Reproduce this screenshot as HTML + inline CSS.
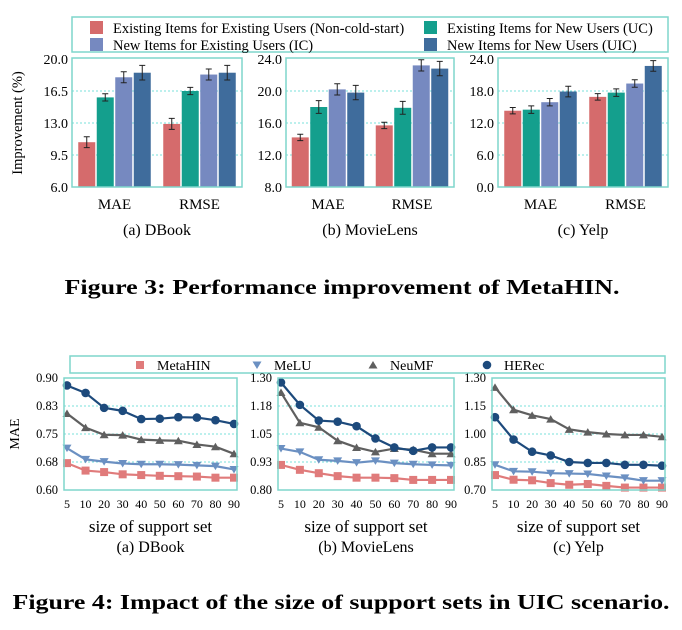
<!DOCTYPE html>
<html><head><meta charset="utf-8"><style>
html,body{margin:0;padding:0;background:#fff;}
svg{display:block;font-family:"Liberation Serif",serif;}
</style></head><body>
<svg id="fig" width="682" height="630" viewBox="0 0 682 630"></svg>
<script>
// ---- Figure 3 data ----
const barMetrics = ["MAE","RMSE"];
const barSeriesNames = ["Existing Items for Existing Users (Non-cold-start)","Existing Items for New Users (UC)","New Items for Existing Users (IC)","New Items for New Users (UIC)"];
const dbookMAE = [10.9, 15.8, 18.0, 18.5];
const dbookRMSE = [12.9, 16.5, 18.3, 18.5];
const movieMAE = [14.2, 18.0, 20.2, 19.8];
const movieRMSE = [15.7, 17.9, 23.2, 22.8];
const yelpMAE = [14.3, 14.5, 15.9, 17.9];
const yelpRMSE = [16.9, 17.7, 19.4, 22.7];
const dbookErr = [0.6, 0.4, 0.6, 0.8];
const movieErr = [0.4, 0.8, 0.7, 0.9];
const yelpErr = [0.6, 0.7, 0.7, 1.0];
const dbookTicks = ["6.0","9.5","13.0","16.5","20.0"];
const movieTicks = ["8.0","12.0","16.0","20.0","24.0"];
const yelpTicks = ["0.0","6.0","12.0","18.0","24.0"];
// ---- Figure 4 data ----
const supportSizes = ["5","10","20","30","40","50","60","70","80","90"];
const lineSeriesNames = ["MetaHIN","MeLU","NeuMF","HERec"];
const dbMeta = [0.672,0.652,0.648,0.642,0.640,0.638,0.637,0.636,0.633,0.633];
const dbMelu = [0.712,0.682,0.676,0.671,0.669,0.669,0.668,0.666,0.664,0.655];
const dbNeu = [0.805,0.767,0.748,0.747,0.735,0.733,0.732,0.722,0.716,0.697];
const dbHer = [0.880,0.860,0.820,0.812,0.790,0.791,0.795,0.794,0.787,0.777];
const mlMeta = [0.912,0.890,0.875,0.862,0.855,0.855,0.853,0.845,0.845,0.845];
const mlMelu = [0.985,0.970,0.935,0.930,0.922,0.930,0.920,0.915,0.912,0.910];
const mlNeu = [1.235,1.100,1.080,1.020,0.990,0.970,0.985,0.980,0.962,0.962];
const mlHer = [1.280,1.180,1.110,1.105,1.085,1.030,0.990,0.975,0.990,0.990];
const ypMeta = [0.780,0.755,0.752,0.737,0.728,0.732,0.722,0.713,0.713,0.713];
const ypMelu = [0.835,0.800,0.798,0.790,0.788,0.786,0.775,0.765,0.750,0.750];
const ypNeu = [1.250,1.130,1.100,1.080,1.025,1.010,1.000,0.995,0.995,0.985];
const ypHer = [1.090,0.970,0.905,0.885,0.850,0.845,0.845,0.835,0.835,0.830];
const dbLineTicks = ["0.60","0.68","0.75","0.83","0.90"];
const mlLineTicks = ["0.80","0.93","1.05","1.18","1.30"];
const ypLineTicks = ["0.70","0.85","1.00","1.15","1.30"];

const NS="http://www.w3.org/2000/svg";
const svg=document.getElementById('fig');
function mk(tag,attrs,parent,text){const e=document.createElementNS(NS,tag);for(const k in attrs)e.setAttribute(k,attrs[k]);if(text!==undefined)e.textContent=text;(parent||svg).appendChild(e);return e;}
const FRAME="#7fd6cc";
const barColors=["#d56b6c","#149f8d","#7689c0","#3f6c9c"];
const lineColors=["#e07b7b","#6b90c2","#5f5f5f","#1d4a7c"];

// Figure 3 legend
let lg=mk('g',{});


mk('rect',{x:72,y:17,width:596,height:35,fill:'none',stroke:FRAME,'stroke-width':1.5},lg);
const legPos=[[90,28],[424,28],[90,45],[424,45]];
barSeriesNames.forEach((n,i)=>{
  const g=mk('g',{},lg);
  
  
  mk('rect',{x:legPos[i][0],y:legPos[i][1]-7,width:13,height:13,fill:barColors[i]},g);
  mk('text',{x:legPos[i][0]+23,y:legPos[i][1]+5,'font-size':14.5},g,n);
});

function barPanel(name,x0,x1,yTicks,mae,rmse,err,label,showY){
  const y0=59,y1=187;
  const g=mk('g',{});
  
  
  const lo=parseFloat(yTicks[0]),hi=parseFloat(yTicks[yTicks.length-1]);
  const ys=v=>y1-(v-lo)/(hi-lo)*(y1-y0);
  yTicks.forEach((t,i)=>{
    const y=ys(parseFloat(t));
    if(i>0&&i<yTicks.length-1) mk('line',{x1:x0,x2:x1,y1:y,y2:y,stroke:'#4fd6d0','stroke-dasharray':'2,2','stroke-width':0.8},g);
    const tx=mk('text',{x:x0-4,y:y+5,'font-size':14,'text-anchor':'end'},g,t);
    
    
  });
  const w=x1-x0, bw=17, gap=1.5;
  [mae,rmse].forEach((vals,gi)=>{
    const cx=x0+w*(gi===0?0.25:0.75);
    vals.forEach((v,i)=>{
      const bx=cx-2*(bw+gap)+i*(bw+gap)+gap/2;
      const r=mk('rect',{x:bx,y:ys(v),width:bw,height:y1-ys(v),fill:barColors[i]},g);
      
      
      const e=err[i], mx=bx+bw/2;
      mk('path',{d:`M${mx},${ys(v+e)}V${ys(v-e)}M${mx-3},${ys(v+e)}H${mx+3}M${mx-3},${ys(v-e)}H${mx+3}`,stroke:'#222','stroke-width':1,fill:'none'},g);
    });
    mk('text',{x:cx,y:209,'font-size':15,'text-anchor':'middle'},g,barMetrics[gi]);
  });
  mk('rect',{x:x0,y:y0-1,width:w,height:y1-y0+1,fill:'none',stroke:FRAME,'stroke-width':1.5},g);
  mk('text',{x:(x0+x1)/2,y:235,'font-size':16,'text-anchor':'middle'},g,label);
  if(showY){const t=mk('text',{x:0,y:0,'font-size':14.5,'text-anchor':'middle',transform:`translate(22,123) rotate(-90)`},g,'Improvement (%)');
    }
}
barPanel('bar-panel-dbook',72,242,dbookTicks,dbookMAE,dbookRMSE,dbookErr,'(a) DBook',true);
barPanel('bar-panel-movielens',286,454,movieTicks,movieMAE,movieRMSE,movieErr,'(b) MovieLens',false);
barPanel('bar-panel-yelp',498,668,yelpTicks,yelpMAE,yelpRMSE,yelpErr,'(c) Yelp',false);

let t3=mk('text',{x:342,y:294,'font-size':21,'font-weight':'bold','text-anchor':'middle',textLength:555,lengthAdjust:'spacingAndGlyphs'},svg,'Figure 3: Performance improvement of MetaHIN.');



// Figure 4 legend
let lg2=mk('g',{});


mk('rect',{x:70,y:356,width:595,height:17,fill:'none',stroke:FRAME,'stroke-width':1.5},lg2);
const l2x=[140,257,373,487];
function marker(g,i,x,y){
  const c=lineColors[i];
  if(i===0) return mk('rect',{x:x-4,y:y-4,width:8,height:8,fill:c},g);
  if(i===1) return mk('path',{d:`M${x-4.5},${y-3.5}L${x+4.5},${y-3.5}L${x},${y+4}Z`,fill:c},g);
  if(i===2) return mk('path',{d:`M${x-4.5},${y+3.5}L${x+4.5},${y+3.5}L${x},${y-4}Z`,fill:c},g);
  return mk('circle',{cx:x,cy:y,r:4.3,fill:c},g);
}
lineSeriesNames.forEach((n,i)=>{
  const g=mk('g',{},lg2);
  
  
  marker(g,i,l2x[i],365);
  mk('text',{x:l2x[i]+17,y:370,'font-size':14},g,n);
});

function linePanel(name,x0,x1,yTicks,series,label,showY){
  const y0=378,y1=490;
  const g=mk('g',{});
  
  
  const lo=parseFloat(yTicks[0]),hi=parseFloat(yTicks[yTicks.length-1]);
  const ys=v=>y1-(v-lo)/(hi-lo)*(y1-y0);
  const pad=3, xs=i=>x0+pad+i*(x1-x0-2*pad)/(supportSizes.length-1);
  yTicks.forEach((t,i)=>{
    const y=y1-i/(yTicks.length-1)*(y1-y0);
    if(i>0&&i<yTicks.length-1) mk('line',{x1:x0,x2:x1,y1:y,y2:y,stroke:'#4fd6d0','stroke-dasharray':'2,2','stroke-width':0.8},g);
    mk('text',{x:x0-6,y:y+4,'font-size':12.5,'text-anchor':'end'},g,t);
  });
  supportSizes.forEach((s,i)=>mk('text',{x:xs(i),y:508,'font-size':12,'text-anchor':'middle'},g,s));
  series.forEach((vals,si)=>{
    const sg=mk('g',{},g);
    
    
    mk('polyline',{points:vals.map((v,i)=>xs(i)+','+ys(v)).join(' '),fill:'none',stroke:lineColors[si],'stroke-width':2.2},sg);
    vals.forEach((v,i)=>marker(sg,si,xs(i),ys(v)));
  });
  mk('rect',{x:x0,y:y0,width:x1-x0,height:y1-y0,fill:'none',stroke:FRAME,'stroke-width':1.5},g);
  mk('text',{x:(x0+x1)/2,y:532,'font-size':17,'text-anchor':'middle'},g,'size of support set');
  mk('text',{x:(x0+x1)/2,y:552,'font-size':16,'text-anchor':'middle'},g,label);
  if(showY){const t=mk('text',{x:0,y:0,'font-size':14,'text-anchor':'middle',transform:`translate(19,434) rotate(-90)`},g,'MAE');
    }
}
linePanel('line-panel-dbook',64,237,dbLineTicks,[dbMeta,dbMelu,dbNeu,dbHer],'(a) DBook',true);
linePanel('line-panel-movielens',278,454,mlLineTicks,[mlMeta,mlMelu,mlNeu,mlHer],'(b) MovieLens',false);
linePanel('line-panel-yelp',492,665,ypLineTicks,[ypMeta,ypMelu,ypNeu,ypHer],'(c) Yelp',false);

let t4=mk('text',{x:341,y:609,'font-size':21,'font-weight':'bold','text-anchor':'middle',textLength:657,lengthAdjust:'spacingAndGlyphs'},svg,'Figure 4: Impact of the size of support sets in UIC scenario.');


</script>
</body></html>
